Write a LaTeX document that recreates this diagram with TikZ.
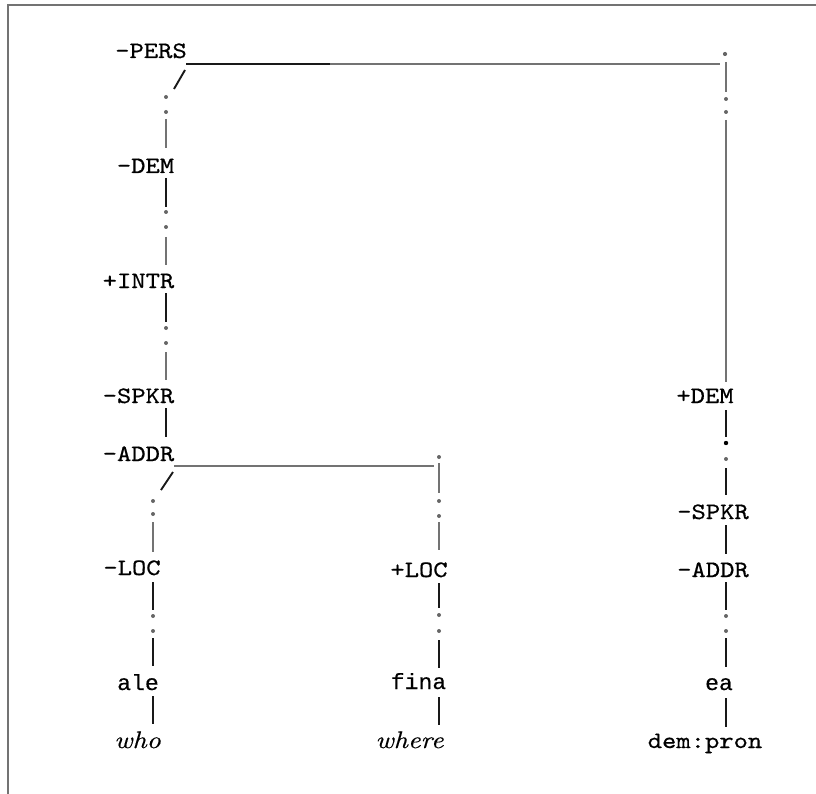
\documentclass[tikz,border=0pt]{standalone}
\usepackage{fontspec}
\newfontfamily\monof{lmmono10-regular.otf}[FakeStretch=1.16,FakeBold=0.6]
\newfontfamily\itaf{lmroman10-italic.otf}[FakeStretch=1.15,FakeBold=0.5]
\newfontfamily\smonof{Liberation Mono}[FakeStretch=1.05,FakeBold=0.4]
\begin{document}
\begin{tikzpicture}[x=1pt,y=-1pt,
  lab/.style={inner sep=0pt, anchor=base, font=\monof\fontsize{23.5}{23.5}\selectfont},
  wrd/.style={inner sep=0pt, anchor=base, font=\smonof\fontsize{22}{22}\selectfont},
  gls/.style={inner sep=0pt, anchor=base, font=\itaf\fontsize{24}{24}\selectfont},
  blk/.style={line width=1.9pt, black!90},
  gry/.style={line width=1.2pt, black!55},
  frm/.style={line width=1.4pt, black!55},
  dotg/.style={fill=black!60},
  dotb/.style={fill=black}]
\useasboundingbox (0,0) rectangle (816,794);
% frame
\coordinate (f1) at (8,794); \coordinate (f2) at (8,5); \coordinate (f3) at (816,5);
\draw[frm] (f1) -- (f2) -- (f3);

% labels
\node[lab] (pers) at (151,58) {-PERS};
\node[lab] (dem) at (145.5,173) {-DEM};
\node[lab] (intr) at (138.5,288) {+INTR};
\node[lab] (spkr) at (138.5,403) {-SPKR};
\node[lab] (addr) at (138.5,461) {-ADDR};
\node[lab] (loc) at (132,575) {-LOC};
\node[wrd] (ale) at (138,690) {ale};
\node[gls] (who) at (137.5,748) {who};
\node[lab] (ploc) at (419,577) {+LOC};
\node[wrd] (fina) at (418.5,689) {fina};
\node[gls] (where) at (409.5,748) {where};
\node[lab] (pdem) at (705,403) {+DEM};
\node[lab] (rspkr) at (713,519) {-SPKR};
\node[lab] (raddr) at (713,577) {-ADDR};
\node[wrd] (ea) at (719,690) {ea};
\node[lab] (dempron) at (705,748) {dem:pron};

% top branch from -PERS
\coordinate (h0) at (186,64); \coordinate (h1) at (330,64); \coordinate (h2) at (720,64);
\draw[blk] (h0) -- (h1);
\draw[gry] (h1) -- (h2);
\fill[dotg] (725,54) circle (2.1);
\draw[gry] (726,62) -- (726,92);
\fill[dotg] (726,99) circle (2);
\fill[dotg] (726,112) circle (2);
\draw[gry] (726,120) -- (726,382);

% slash from -PERS
\draw[blk] (185,70) -- (174,89);
\fill[dotg] (166,97) circle (2);
\fill[dotg] (166,112) circle (2);
\draw[gry] (166,119) -- (166,148);
% -DEM to +INTR
\draw[blk] (166,178) -- (166,207);
\fill[dotg] (166,212) circle (2);
\fill[dotg] (166,227) circle (2);
\draw[gry] (166,237) -- (166,265);
% +INTR to -SPKR
\draw[blk] (166,293) -- (166,322);
\fill[dotg] (166,328) circle (2);
\fill[dotg] (166,343) circle (2);
\draw[gry] (166,352) -- (166,380);
% -SPKR to -ADDR
\draw[blk] (166,408) -- (166,437);

% branch from -ADDR
\draw[gry] (174,466) -- (434,466);
\fill[dotg] (439,457) circle (2);
\draw[gry] (439,463) -- (439,493);
\fill[dotg] (439,501) circle (2);
\fill[dotg] (439,516) circle (2);
\draw[gry] (439,522) -- (439,550);
\draw[blk] (439,583) -- (439,608);
\fill[dotg] (439,615) circle (2);
\fill[dotg] (439,631) circle (2);
\draw[blk] (439,640) -- (439,668);
\draw[blk] (439,697) -- (439,725);

% slash from -ADDR
\draw[blk] (173,472) -- (161,490);
\fill[dotg] (153,501) circle (2);
\fill[dotg] (153,514) circle (2);
\draw[gry] (153,522) -- (153,552);
\draw[blk] (153,582) -- (153,610);
\fill[dotg] (153,616) circle (2);
\fill[dotg] (153,631) circle (2);
\draw[blk] (153,638) -- (153,666);
\draw[blk] (153,696) -- (153,724);

% right column
\draw[blk] (726,410) -- (726,437);
\fill[dotb] (726,443) circle (2.2);
\fill[dotg] (726,459) circle (2);
\draw[blk] (726,468) -- (726,495);
\draw[blk] (726,525) -- (726,554);
\draw[blk] (726,582) -- (726,610);
\fill[dotg] (726,616) circle (2);
\fill[dotg] (726,631) circle (2);
\draw[blk] (726,638) -- (726,667);
\draw[blk] (726,698) -- (726,727);
\end{tikzpicture}
\end{document}
